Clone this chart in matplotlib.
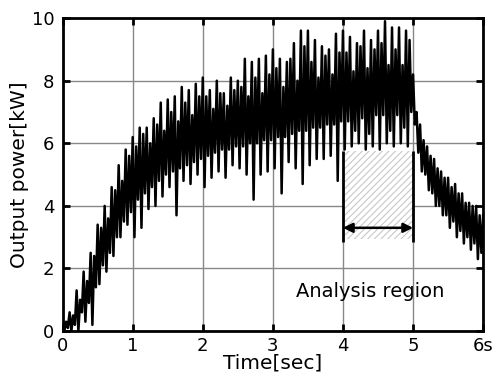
import matplotlib
matplotlib.use("Agg")
import matplotlib.pyplot as plt
from matplotlib.patches import Rectangle
import numpy as np


# peak / trough pairs, one pair every 0.05 s
PEAKS = [
    0.4, 0.3, 0.6, 0.5, 1.3, 1.0, 1.9, 1.6, 2.5, 2.4,
    3.4, 3.3, 4.0, 3.6, 4.6, 4.5, 5.3, 4.8, 5.8, 5.6,
    6.2, 5.9, 6.5, 6.3, 6.5, 6.0, 6.8, 6.6, 7.3, 6.4,
    7.4, 7.0, 7.5, 6.7, 7.8, 7.3, 7.7, 6.9, 7.9, 7.5,
    8.1, 7.5, 7.7, 7.1, 8.0, 7.6, 7.6, 7.2, 8.1, 7.7,
    8.0, 7.8, 8.7, 7.5, 8.6, 8.1, 8.7, 7.6, 8.8, 8.2,
    9.0, 8.4, 8.7, 7.8, 8.6, 8.7, 9.2, 8.0, 9.6, 9.1,
    9.6, 8.6, 9.3, 8.1, 9.1, 8.8, 9.0, 8.2, 9.5, 8.9,
    9.6, 8.9, 9.4, 8.3, 9.2, 9.1, 9.6, 8.4, 9.3, 9.0,
    9.6, 9.2, 9.9, 8.5, 9.7, 9.0, 9.7, 8.5, 9.6, 9.3,
    8.2, 7.0, 6.6, 6.1, 5.9, 5.6, 5.5, 5.2, 5.1, 4.9,
    4.9, 4.6, 4.7, 4.4, 4.4, 4.1, 4.1, 4.0, 4.0, 3.7,
]
TROUGHS = [
    0.0, 0.1, 0.0, 0.2, 0.0, 0.6, 0.3, 0.9, 0.2, 1.4,
    1.5, 2.1, 1.9, 2.5, 2.4, 3.0, 3.0, 3.5, 3.4, 3.8,
    3.0, 4.2, 3.3, 4.4, 3.9, 4.6, 4.0, 4.8, 4.3, 5.0,
    4.6, 5.1, 3.7, 5.2, 4.8, 5.3, 4.7, 5.4, 5.0, 5.5,
    4.6, 5.6, 4.9, 5.7, 5.1, 5.8, 4.9, 5.8, 5.3, 5.9,
    5.2, 5.9, 5.0, 6.0, 4.2, 6.0, 5.0, 6.1, 5.1, 6.1,
    5.2, 6.2, 4.4, 6.2, 5.4, 6.3, 5.2, 6.4, 4.7, 6.4,
    5.3, 6.5, 5.5, 6.5, 5.5, 6.6, 5.6, 6.6, 4.8, 6.7,
    5.8, 6.7, 5.9, 6.4, 6.0, 6.8, 5.8, 6.3, 5.9, 6.9,
    5.8, 6.9, 6.0, 6.4, 5.9, 6.9, 6.0, 6.5, 5.9, 7.0,
    6.6, 5.7, 5.1, 5.0, 4.5, 4.4, 4.0, 4.0, 3.7, 3.7,
    3.3, 3.5, 3.0, 3.2, 2.8, 3.0, 2.6, 2.8, 2.3, 2.5,
]
LAST_VALUE = 3.7

X_TICKS = [0, 1, 2, 3, 4, 5, 6]
X_LABELS = ["0", "1", "2", "3", "4", "5", "6s"]
Y_TICKS = [0, 2, 4, 6, 8, 10]

REGION = (4.0, 5.0)
REGION_Y = (2.95, 5.75)
ARROW_Y = 3.3


def main() -> None:
    plt.rcParams["font.family"] = ["DejaVu Sans"]
    plt.rcParams["hatch.linewidth"] = 0.8

    power = []
    for p, t in zip(PEAKS, TROUGHS):
        power += [p, t]
    power.append(LAST_VALUE)
    time = np.linspace(0, 6, len(power))

    fig = plt.figure(figsize=(4.93, 3.85), dpi=100)
    ax = fig.add_axes([0.127, 0.140, 0.853, 0.813])

    ax.add_patch(Rectangle((REGION[0], REGION_Y[0]), REGION[1] - REGION[0],
                           REGION_Y[1] - REGION_Y[0], facecolor="white",
                           hatch="/////", edgecolor="#c8c8c8", lw=0, zorder=1.5))
    ax.vlines(REGION, REGION_Y[0] - 0.1, REGION_Y[1], color="black", lw=2, zorder=3)
    ax.annotate("", xy=(REGION[0], ARROW_Y), xytext=(REGION[1], ARROW_Y),
                arrowprops=dict(arrowstyle="<|-|>", color="black", lw=1.8,
                                mutation_scale=14, shrinkA=0, shrinkB=0),
                zorder=3)
    ax.text(4.39, 1.25, "Analysis region", ha="center", va="center", fontsize=14)

    ax.plot(time, power, color="black", lw=1.8, zorder=2)

    ax.set_xlim(0, 6)
    ax.set_ylim(0, 10)
    ax.set_xticks(X_TICKS)
    ax.set_xticklabels(X_LABELS)
    ax.set_yticks(Y_TICKS)
    ax.grid(color="#888888", lw=1.0)
    ax.set_axisbelow(True)
    ax.tick_params(direction="in", top=True, right=True, length=5, width=2,
                   labelsize=13)
    ax.tick_params(axis="x", pad=4)
    ax.tick_params(axis="y", pad=6)
    for spine in ax.spines.values():
        spine.set_linewidth(2)
    ax.set_xlabel("Time[sec]", fontsize=14.5, labelpad=-1)
    ax.set_ylabel("Output power[kW]", fontsize=14.5, labelpad=2)

    plt.savefig("out.png", dpi=100)
    plt.close()


if __name__ == "__main__":
    main()
